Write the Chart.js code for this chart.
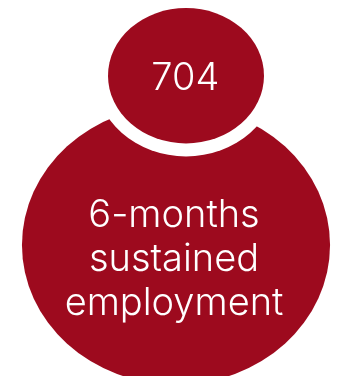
<!DOCTYPE html>
<html>
<head>
<meta charset="utf-8">
<title>6-months sustained employment</title>
<script src="https://cdn.jsdelivr.net/npm/chart.js@4/dist/chart.umd.min.js"></script>
<style>
    html, body { margin: 0; padding: 0; background: #ffffff; overflow: hidden; }
    #chartContainer { width: 340px; height: 376px; position: relative; }
</style>
</head>
<body>
<div id="chartContainer"><canvas id="bubbleChart"></canvas></div>
<script>
//the outer group comes first so the inner one is painted over it
const categories = ["6-months sustained employment", "In the group"];
const values = [2865, 704];
const bubbleLabels = [["6-months", "sustained", "employment"], ["704"]];

//where each bubble sits on the 340x376 axes
const centerX = [176, 186];
const centerY = [245, 75.7];
//width over height of each bubble, they're drawn as ellipses
const stretch = [1.104, 1.152];
//white ring that separates a bubble from the one beneath it
const ringWidth = [0, 13];
//label anchor, first baseline and step between lines
const labelX = [174, 185.3];
const labelBaseline = [226.7, 90];
const lineStep = 44;

const barColor = "#9d0a1e";
//bubble area follows the value
const radiusFactor = 2.739;

function buildPoints() {
    let points = [];
    for (let i = 0; i < values.length; i++) {
        points.push({ x: centerX[i], y: centerY[i], r: radiusFactor * Math.sqrt(values[i]) });
    }
    return points;
}

//chart.js only has round bubbles, so take its elements and paint them as ellipses
const ellipseBubbles = {
    id: "ellipseBubbles",
    beforeDatasetDraw(chart, args) {
        const ctx = chart.ctx;
        const elements = args.meta.data;
        elements.forEach((el, i) => {
            const r = el.options.radius;
            const rx = r * Math.sqrt(stretch[i]);
            const ry = r / Math.sqrt(stretch[i]);
            if (ringWidth[i] > 0) {
                ctx.beginPath();
                ctx.ellipse(el.x, el.y, rx + ringWidth[i], ry + ringWidth[i], 0, 0, Math.PI * 2);
                ctx.fillStyle = "#ffffff";
                ctx.fill();
            }
            ctx.beginPath();
            ctx.ellipse(el.x, el.y, rx, ry, 0, 0, Math.PI * 2);
            ctx.fillStyle = el.options.backgroundColor;
            ctx.fill();
        });
        //returning false stops the default round drawing
        return false;
    },
    afterDatasetsDraw(chart) {
        const ctx = chart.ctx;
        ctx.save();
        ctx.font = "300 38px Inter";
        ctx.fillStyle = "#ffffff";
        ctx.textAlign = "center";
        ctx.textBaseline = "alphabetic";
        bubbleLabels.forEach((lines, i) => {
            lines.forEach((line, n) => {
                ctx.fillText(line, labelX[i], labelBaseline[i] + n * lineStep);
            });
        });
        ctx.restore();
    }
};

new Chart(document.getElementById("bubbleChart"), {
    type: "bubble",
    data: {
        labels: categories,
        datasets: [{
            label: "Participants",
            data: buildPoints(),
            backgroundColor: barColor,
            borderWidth: 0
        }]
    },
    options: {
        responsive: true,
        maintainAspectRatio: false,
        animation: false,
        //without this the big bubbles squeeze the plot area to make room for themselves
        layout: { padding: 0, autoPadding: false },
        plugins: { legend: { display: false }, tooltip: { enabled: false } },
        scales: {
            x: { type: "linear", display: false, min: 0, max: 340 },
            y: { type: "linear", display: false, min: 0, max: 376, reverse: true }
        }
    },
    plugins: [ellipseBubbles]
});
</script>
</body>
</html>
